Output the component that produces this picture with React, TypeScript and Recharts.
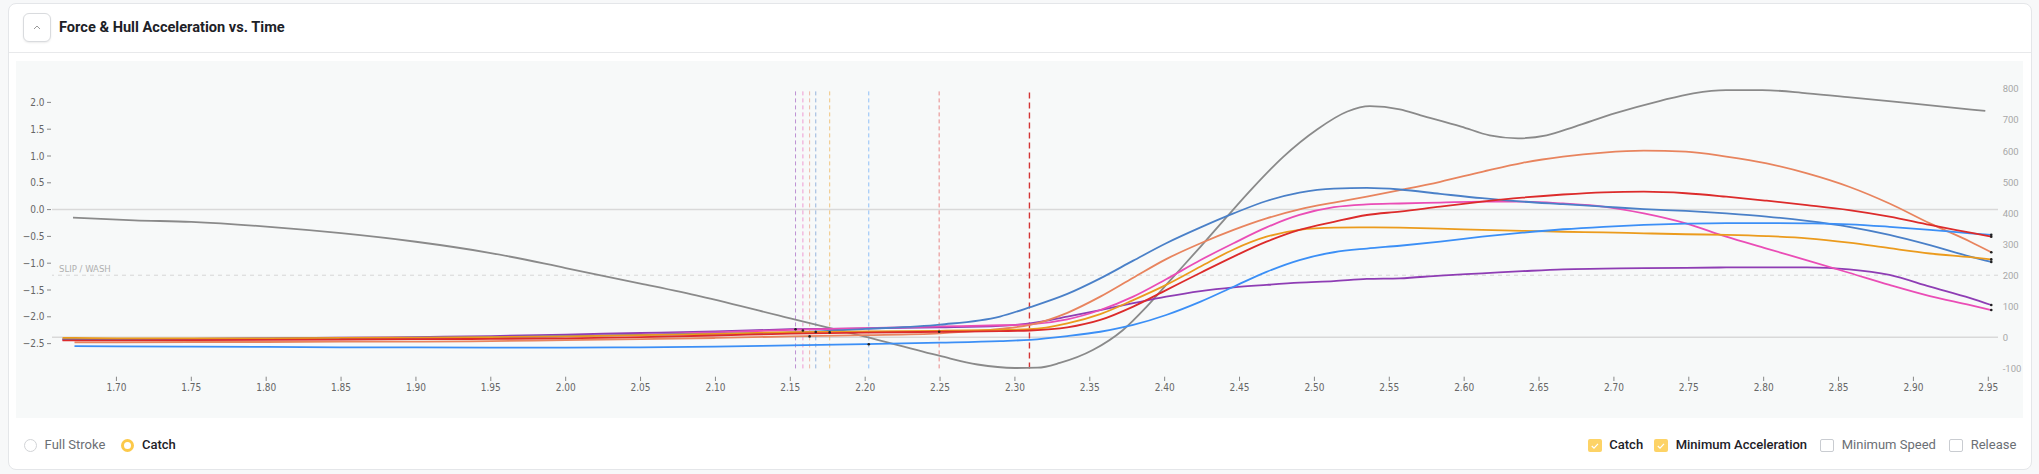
import React from 'react';
import { LineChart, Line, XAxis, YAxis, ReferenceLine, ReferenceDot } from 'recharts';

// ---------- data ----------
const T_FORCE = [1.664, 1.672, 1.7, 1.75, 1.8, 1.85, 1.9, 1.95, 2.0, 2.05, 2.1, 2.15, 2.2, 2.25, 2.29, 2.31, 2.335, 2.357, 2.379, 2.401, 2.424, 2.446, 2.468, 2.49, 2.513, 2.535, 2.557, 2.584, 2.612, 2.639, 2.666, 2.693, 2.72, 2.748, 2.775, 2.802, 2.829, 2.857, 2.884, 2.911, 2.938, 2.952];

const FORCE_PURPLE = [-7, -7, -7, -5, -3, -1, 1, 4, 9, 14, 19, 26, 29, 32, 37, 45, 67, 88, 110, 131, 149, 161, 169, 176, 181, 188, 190, 199, 206, 213, 219, 221, 223, 224, 225, 225, 225, 219, 201, 163, 126, 104];
const FORCE_PINK = [-8, -8, -8, -7, -6, -4, -2, 0, 4, 9, 16, 24, 30, 35, 39, 42, 58, 88, 131, 187, 249, 303, 354, 394, 419, 428, 431, 434, 437, 437, 431, 421, 399, 367, 324, 286, 248, 208, 169, 133, 104, 88];
const FORCE_SALMON = [null, -16, -16, -15, -15, -14, -14, -12, -9, -6, -2, 3, 7, 13, 27, 40, 79, 131, 192, 252, 303, 346, 383, 412, 434, 453, 474, 501, 533, 562, 582, 595, 601, 598, 582, 560, 528, 485, 431, 367, 308, 274];
const FORCE_STEEL = [-6, -6, -6, -5, -4, -3, -1, 1, 4, 8, 12, 16, 27, 41, 67, 97, 140, 190, 247, 303, 354, 399, 439, 466, 479, 481, 476, 462, 448, 437, 429, 421, 413, 407, 399, 389, 375, 356, 330, 297, 260, 243];
const FORCE_ORANGE = [-2, -2, -3, -3, -3, -2, -1, 1, 3, 7, 11, 17, 19, 21, 24, 26, 45, 75, 120, 169, 228, 283, 324, 346, 353, 354, 353, 350, 346, 343, 340, 338, 335, 332, 330, 326, 319, 305, 287, 270, 258, 251];
const FORCE_BRIGHT = [null, -28, -29, -30, -31, -32, -32, -33, -33, -32, -30, -26, -22, -17, -12, -8, 4, 18, 40, 72, 115, 163, 211, 249, 274, 286, 295, 308, 324, 337, 348, 356, 362, 366, 368, 368, 367, 364, 356, 346, 335, 330];
const FORCE_RED = [-10, -10, -10, -9, -8, -7, -6, -5, -3, 1, 6, 12, 15, 18, 20, 22, 32, 56, 99, 152, 208, 260, 308, 346, 372, 394, 405, 421, 437, 450, 460, 467, 469, 464, 453, 440, 426, 410, 389, 362, 337, 324];

const T_ACCEL = [1.671, 1.712, 1.75, 1.8, 1.85, 1.9, 1.95, 2.0, 2.05, 2.09, 2.15, 2.2, 2.25, 2.275, 2.3, 2.315, 2.33, 2.352, 2.372, 2.388, 2.404, 2.424, 2.441, 2.459, 2.479, 2.502, 2.522, 2.537, 2.557, 2.571, 2.598, 2.617, 2.636, 2.655, 2.674, 2.701, 2.731, 2.753, 2.775, 2.799, 2.829, 2.856, 2.897, 2.948];
const HULL_ACCEL = [-0.15, -0.2, -0.23, -0.317, -0.44, -0.6, -0.81, -1.09, -1.38, -1.62, -2.03, -2.37, -2.73, -2.89, -2.955, -2.95, -2.86, -2.62, -2.25, -1.81, -1.31, -0.69, -0.15, 0.41, 0.98, 1.5, 1.83, 1.93, 1.87, 1.76, 1.55, 1.385, 1.33, 1.385, 1.55, 1.8, 2.03, 2.17, 2.23, 2.23, 2.17, 2.1, 1.985, 1.84];

const SERIES_NAMES = ['purple', 'pink', 'salmon', 'steel', 'orange', 'bright', 'red'];
const SERIES_COLORS = ['#8e3db4', '#ea4db6', '#e8845e', '#4a80c8', '#eb9b1d', '#3b8ff6', '#dc2b2b'];
const SERIES_VALUES = [FORCE_PURPLE, FORCE_PINK, FORCE_SALMON, FORCE_STEEL, FORCE_ORANGE, FORCE_BRIGHT, FORCE_RED];
const CATCH_TIMES = [2.1535, 2.1584, 2.1629, 2.167, 2.1763, 2.2024, 2.2494];
const CATCH_FORCES = [26, 22, 3, 17, 16, -22, 18];
const MIN_ACCEL_TIME = 2.3097;
const SLIP_WASH_FORCE = 200;

const X_TICKS = [1.7, 1.75, 1.8, 1.85, 1.9, 1.95, 2.0, 2.05, 2.1, 2.15, 2.2, 2.25, 2.3, 2.35, 2.4, 2.45, 2.5, 2.55, 2.6, 2.65, 2.7, 2.75, 2.8, 2.85, 2.9, 2.95];
const ACCEL_TICKS = [2, 1.5, 1, 0.5, 0, -0.5, -1, -1.5, -2, -2.5];
const FORCE_TICKS = [800, 700, 600, 500, 400, 300, 200, 100, 0, -100];

const X_DOMAIN = [1.65698, 2.95648];
const ACCEL_DOMAIN = [-2.9627, 2.2519];
const FORCE_DOMAIN = [-100, 800];

// ---------- built tables ----------
const forceData = T_FORCE.map((t, i) => {
  const row: any = { t };
  SERIES_NAMES.forEach((n, k) => { row[n] = SERIES_VALUES[k][i]; });
  return row;
});
const accelData = T_ACCEL.map((t, i) => ({ t, accel: HULL_ACCEL[i] }));

const FONT = 'Roboto, "Noto Sans", Arial, sans-serif';
const TICK_FONT = '"Liberation Sans Narrow", "DejaVu Sans Condensed", Roboto, sans-serif';

const XTick = (props: any) => {
  const { x, y, payload } = props;
  return (
    <g>
      <line x1={x} x2={x} y1={y + 8.3} y2={y + 12.6} stroke="#888" strokeWidth={1} />
      <text x={x} y={y + 19.3} textAnchor="middle" dominantBaseline="central" fontSize={10} fill="#666" fontFamily={TICK_FONT}>
        {Number(payload.value).toFixed(2)}
      </text>
    </g>
  );
};

const AccelTick = (props: any) => {
  const { x, y, payload } = props;
  const v = Number(payload.value);
  const label = (v < 0 ? '\u2212' : '') + Math.abs(v).toFixed(1);
  return (
    <g>
      <line x1={x - 5} x2={x - 1} y1={y} y2={y} stroke="#888" strokeWidth={1} />
      <text x={x - 7.4} y={y} textAnchor="end" dominantBaseline="central" fontSize={10} fill="#666" fontFamily={TICK_FONT}>
        {label}
      </text>
    </g>
  );
};

const ForceTick = (props: any) => {
  const { x, y, payload } = props;
  return (
    <text x={x + 4.7} y={y} textAnchor="start" dominantBaseline="central" fontSize={9.5} fill="#a8a8a8" fontFamily={FONT}>
      {String(payload.value)}
    </text>
  );
};

const SlipLabel = (props: any) => {
  const vb = props.viewBox || {};
  return (
    <text x={(vb.x || 0) + 7} y={(vb.y || 0) - 7} dominantBaseline="central" fontSize={9.5} fill="#b0b0b0" fontFamily={TICK_FONT}>
      SLIP / WASH
    </text>
  );
};

const endDot = (len: number) => (p: any) => {
  if (p.index !== len - 1) return <g key={`d${p.index}`} />;
  return <circle key={`d${p.index}`} cx={p.cx} cy={p.cy} r={1.3} fill="#222" />;
};

const Checkbox = ({ left, checked }: { left: number; checked: boolean }) => (
  <div
    style={{
      position: 'absolute', left, top: 438.5, width: checked ? 13.7 : 11.7, height: checked ? 13.7 : 11.7,
      borderRadius: 2, background: checked ? '#fdd366' : '#fff', border: checked ? 'none' : '1px solid #c9ccd1',
    }}
  >
    {checked && (
      <svg width={13.7} height={13.7} style={{ position: 'absolute', left: 0, top: 0 }}>
        <polyline points="3.8,7 6,9.2 10,4.8" fill="none" stroke="#fff" strokeWidth={1.2} />
      </svg>
    )}
  </div>
);

const Text = ({ left, children, weight, color }: any) => (
  <div style={{ position: 'absolute', left, top: 437, lineHeight: '16px', fontSize: 13, fontFamily: FONT, fontWeight: weight, color, whiteSpace: 'nowrap' }}>
    {children}
  </div>
);

export default function App() {
  return (
    <div style={{ position: 'absolute', left: 0, top: 0, width: 2039, height: 474, background: '#f7f8f9', overflow: 'hidden' }}>
      {/* card */}
      <div style={{ position: 'absolute', left: 7.5, top: 2.7, width: 2022, height: 465, background: '#fff', border: '1px solid #e4e6e9', borderRadius: 8 }} />
      {/* header separator */}
      <div style={{ position: 'absolute', left: 8.5, top: 52.2, width: 2022, height: 1, background: '#e8e9eb' }} />
      {/* collapse button */}
      <div style={{ position: 'absolute', left: 23.3, top: 13.3, width: 26, height: 26.5, border: '1px solid #d9dbde', borderRadius: 6, background: '#fff', boxShadow: '0 1px 2px rgba(0,0,0,0.08)' }}>
        <svg width={26} height={26} style={{ position: 'absolute', left: 0, top: 0 }}>
          <polyline points="10,15 13,12 16,15" fill="none" stroke="#9a9a9a" strokeWidth={1} />
        </svg>
      </div>
      <div style={{ position: 'absolute', left: 59, top: 18, lineHeight: '18px', fontSize: 14.6, fontWeight: 700, fontFamily: FONT, color: '#1d2127', whiteSpace: 'nowrap' }}>
        Force &amp; Hull Acceleration vs. Time
      </div>
      {/* chart panel */}
      <div style={{ position: 'absolute', left: 16, top: 61, width: 2007, height: 357, background: '#f7f9f9' }} />

      <div style={{ position: 'absolute', left: 0, top: 0 }}>
        <LineChart width={2039} height={420} margin={{ top: 88.9, right: 0, bottom: 21.6, left: 0 }}>
          <XAxis
            xAxisId="x" dataKey="t" type="number" domain={X_DOMAIN} ticks={X_TICKS} height={30}
            axisLine={false} tickLine={false} tickSize={0} tickMargin={0} tick={<XTick />} interval={0}
          />
          <YAxis
            yAxisId="accel" orientation="left" type="number" domain={ACCEL_DOMAIN} ticks={ACCEL_TICKS} width={52}
            axisLine={false} tickLine={false} tickSize={0} tickMargin={0} tick={<AccelTick />} interval={0}
          />
          <YAxis
            yAxisId="force" orientation="right" type="number" domain={FORCE_DOMAIN} ticks={FORCE_TICKS} width={41}
            axisLine={false} tickLine={false} tickSize={0} tickMargin={0} tick={<ForceTick />} interval={0}
          />

          <ReferenceLine xAxisId="x" yAxisId="accel" y={0} stroke="#d9d9d9" strokeWidth={1.5} />
          <ReferenceLine xAxisId="x" yAxisId="force" y={0} stroke="#d9d9d9" strokeWidth={1.5} />
          <ReferenceLine xAxisId="x" yAxisId="force" y={SLIP_WASH_FORCE} stroke="#d6d6d6" strokeWidth={1} strokeDasharray="4 4" label={<SlipLabel />} />

          {CATCH_TIMES.map((t, k) => (
            <ReferenceLine key={`c${k}`} xAxisId="x" yAxisId="force" x={t} stroke={SERIES_COLORS[k]} strokeOpacity={0.55} strokeWidth={1} strokeDasharray="4 3" />
          ))}
          <ReferenceLine xAxisId="x" yAxisId="force" x={MIN_ACCEL_TIME} stroke="#d43535" strokeWidth={1.4} strokeDasharray="6 4" />

          <Line
            xAxisId="x" yAxisId="accel" data={accelData} dataKey="accel" type="monotone"
            stroke="#8a8a8a" strokeWidth={1.8} dot={false} isAnimationActive={false}
          />
          {SERIES_NAMES.map((n, k) => (
            <Line
              key={n} xAxisId="x" yAxisId="force" data={forceData} dataKey={n} type="monotone"
              stroke={SERIES_COLORS[k]} strokeWidth={1.8} dot={endDot(forceData.length)} activeDot={false}
              isAnimationActive={false}
            />
          ))}
          {CATCH_TIMES.map((t, k) => (
            <ReferenceDot key={`cd${k}`} xAxisId="x" yAxisId="force" x={t} y={CATCH_FORCES[k]} r={1.3} fill="#222" stroke="none" />
          ))}
        </LineChart>
      </div>

      {/* footer */}
      <div style={{ position: 'absolute', left: 23.7, top: 438.5, width: 11, height: 11, borderRadius: '50%', border: '1px solid #d2d4d7', background: '#fff' }} />
      <Text left={44.6} weight={400} color="#6b6f75">Full Stroke</Text>
      <div style={{ position: 'absolute', left: 121, top: 438.5, width: 7, height: 7, borderRadius: '50%', border: '3px solid #fcc94a', background: '#fff' }} />
      <Text left={142} weight={500} color="#1d2127">Catch</Text>

      <Checkbox left={1588} checked />
      <Text left={1609.3} weight={500} color="#1d2127">Catch</Text>
      <Checkbox left={1654} checked />
      <Text left={1675.7} weight={500} color="#1d2127">Minimum Acceleration</Text>
      <Checkbox left={1820.3} checked={false} />
      <Text left={1841.7} weight={400} color="#6b6f75">Minimum Speed</Text>
      <Checkbox left={1949.3} checked={false} />
      <Text left={1970.7} weight={400} color="#6b6f75">Release</Text>
    </div>
  );
}
